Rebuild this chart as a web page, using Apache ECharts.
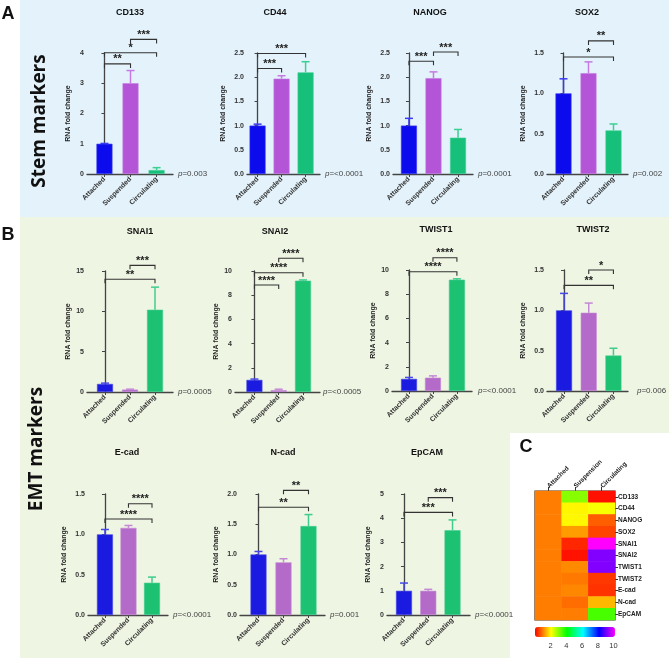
<!DOCTYPE html>
<html><head><meta charset="utf-8">
<script src="https://cdn.jsdelivr.net/npm/echarts@6/dist/echarts.min.js"></script>
<style>html,body{margin:0;padding:0;background:#fff}#c{width:669px;height:658px}</style>
</head><body><div id="c"></div>
<script>
// ---------- DATA ----------
const groups = ['Attached', 'Suspended', 'Circulating'];
const heatCols = ['Attached', 'Suspension', 'Circulating'];
const genes = ['CD133', 'CD44', 'NANOG', 'SOX2', 'SNAI1', 'SNAI2', 'TWIST1', 'TWIST2', 'E-cad', 'N-cad', 'EpCAM'];
// mean RNA fold change per group
const cd133Mean = [1.0, 3.0, 0.13];   const cd133Err = [0.01, 0.42, 0.08];
const cd44Mean  = [1.0, 1.97, 2.1];   const cd44Err  = [0.03, 0.06, 0.22];
const nanogMean = [1.0, 1.98, 0.75];  const nanogErr = [0.15, 0.13, 0.17];
const sox2Mean  = [1.0, 1.25, 0.54];  const sox2Err  = [0.18, 0.14, 0.08];
const snai1Mean = [1.0, 0.3, 10.2];   const snai1Err = [0.1, 0.05, 2.8];
const snai2Mean = [1.0, 0.15, 9.2];   const snai2Err = [0.07, 0.08, 0.06];
const twist1Mean = [1.0, 1.1, 9.2];   const twist1Err = [0.12, 0.15, 0.07];
const twist2Mean = [1.0, 0.97, 0.44]; const twist2Err = [0.21, 0.12, 0.09];
const ecadMean  = [1.0, 1.08, 0.4];   const ecadErr  = [0.06, 0.03, 0.07];
const ncadMean  = [1.0, 0.87, 1.47];  const ncadErr  = [0.05, 0.06, 0.19];
const epcamMean = [1.0, 1.0, 3.5];    const epcamErr = [0.32, 0.06, 0.43];
// significance brackets: [from group, to group, height (value), label]
const cd133Sig = [[0, 1, 3.64, '**'], [0, 2, 4.01, '*'], [1, 2, 4.45, '***']];
const cd44Sig  = [[0, 1, 2.18, '***'], [0, 2, 2.49, '***']];
const nanogSig = [[0, 1, 2.33, '***'], [1, 2, 2.52, '***']];
const sox2Sig  = [[0, 2, 1.45, '*'], [1, 2, 1.65, '**']];
const snai1Sig = [[0, 2, 13.97, '**'], [1, 2, 15.7, '***']];
const snai2Sig = [[0, 1, 8.84, '****'], [0, 2, 9.86, '****'], [1, 2, 11.05, '****']];
const twist1Sig = [[0, 2, 9.86, '****'], [1, 2, 11.01, '****']];
const twist2Sig = [[0, 2, 1.31, '**'], [1, 2, 1.5, '*']];
const ecadSig  = [[0, 2, 1.19, '****'], [1, 2, 1.38, '****']];
const ncadSig  = [[0, 2, 1.78, '**'], [1, 2, 2.06, '**']];
const epcamSig = [[0, 2, 4.24, '***'], [1, 2, 4.85, '***']];
const pValues = ['=0.003', '=<0.0001', '=0.0001', '=0.002', '=0.0005', '=<0.0005', '=<0.0001', '=0.006', '=<0.0001', '=0.001', '=<0.0001'];
const yMaxes = [4, 2.5, 2.5, 1.5, 15, 10, 10, 1.5, 1.5, 2, 5];
const yIntervals = [1, 0.5, 0.5, 0.5, 5, 2, 2, 0.5, 0.5, 0.5, 1];
const colorTicks = [0, 10.2];

const means = [cd133Mean, cd44Mean, nanogMean, sox2Mean, snai1Mean, snai2Mean, twist1Mean, twist2Mean, ecadMean, ncadMean, epcamMean];
const errs = [cd133Err, cd44Err, nanogErr, sox2Err, snai1Err, snai2Err, twist1Err, twist2Err, ecadErr, ncadErr, epcamErr];
const sigs = [cd133Sig, cd44Sig, nanogSig, sox2Sig, snai1Sig, snai2Sig, twist1Sig, twist2Sig, ecadSig, ncadSig, epcamSig];

// ---------- LAYOUT ----------
const layout = [
  {left: 87, top: 53, w: 86, h: 121, xMin: -0.67, xMax: 2.63, tx: 130, ty: 13, px: 178, py: 174, sec: 0},
  {left: 247, top: 53, w: 73, h: 121, xMin: -0.44, xMax: 2.6, tx: 275, ty: 13, px: 325, py: 174, sec: 0},
  {left: 393, top: 53, w: 80, h: 121, xMin: -0.65, xMax: 2.61, tx: 430, ty: 13, px: 478, py: 174, sec: 0},
  {left: 547, top: 53, w: 81, h: 121, xMin: -0.66, xMax: 2.58, tx: 587, ty: 13, px: 633, py: 174, sec: 0},
  {left: 87, top: 271, w: 86, h: 121, xMin: -0.72, xMax: 2.72, tx: 140, ty: 232, px: 178, py: 392, sec: 1},
  {left: 235, top: 271, w: 85, h: 121, xMin: -0.8, xMax: 2.7, tx: 275, ty: 232, px: 323, py: 392, sec: 1},
  {left: 392, top: 270, w: 80, h: 121, xMin: -0.71, xMax: 2.63, tx: 436, ty: 230, px: 478, py: 391, sec: 1},
  {left: 547, top: 270, w: 81, h: 121, xMin: -0.69, xMax: 2.59, tx: 593, ty: 230, px: 637, py: 391, sec: 1},
  {left: 88, top: 494, w: 80, h: 121, xMin: -0.72, xMax: 2.68, tx: 127, ty: 453, px: 173, py: 615, sec: 1},
  {left: 240, top: 494, w: 85, h: 121, xMin: -0.74, xMax: 2.66, tx: 283, ty: 453, px: 330, py: 615, sec: 1},
  {left: 387, top: 494, w: 83, h: 121, xMin: -0.7, xMax: 2.72, tx: 427, ty: 453, px: 475, py: 615, sec: 1}
];
const barColors = [['#0b0bee', '#b455d8', '#17c07a'], ['#1a1ae0', '#b46ac8', '#1cc172']];
const errColors = [['#3a3af2', '#c47ae2', '#3ccf92'], ['#4848e8', '#c488d6', '#40cc8e']];
const FONT = 'Liberation Sans, Arial, sans-serif';

const grids = [], xAxes = [], yAxes = [], series = [], graphics = [];

graphics.push({type: 'rect', z: -10, shape: {x: 20, y: 0, width: 649, height: 217}, style: {fill: '#e4f3fb'}});
graphics.push({type: 'rect', z: -10, shape: {x: 20, y: 217, width: 649, height: 441}, style: {fill: '#eef5e3'}});
graphics.push({type: 'rect', z: -9, shape: {x: 510, y: 433, width: 159, height: 225}, style: {fill: '#ffffff'}});
function txt(x, y, text, font, opts) {
  return {type: 'text', x: x, y: y, style: Object.assign({text: text, font: font, fill: '#111', align: 'center', verticalAlign: 'middle', textAlign: 'center', textVerticalAlign: 'middle'}, opts || {})};
}
graphics.push(txt(8, 14, 'A', 'bold 18px ' + FONT));
graphics.push(txt(8, 235, 'B', 'bold 18px ' + FONT));
graphics.push(txt(526, 447, 'C', 'bold 18px ' + FONT));
const sm = txt(40, 121, 'Stem markers', 'bold 19px "Open Sans", sans-serif'); sm.rotation = Math.PI / 2; graphics.push(sm);
const em = txt(37, 449, 'EMT markers', 'bold 19px "Open Sans", sans-serif'); em.rotation = Math.PI / 2; graphics.push(em);

layout.forEach((L, i) => {
  const dec = yIntervals[i] < 1 ? 1 : 0;
  grids.push({left: L.left, top: L.top, width: L.w, height: L.h});
  xAxes.push({
    gridIndex: i, type: 'value', min: L.xMin, max: L.xMax,
    axisLine: {show: true, onZero: false, lineStyle: {color: '#444', width: 1.3}},
    splitLine: {show: false},
    axisTick: {show: true, customValues: [0, 1, 2], length: 3, lineStyle: {color: '#444', width: 1}},
    axisLabel: {customValues: [0, 1, 2], formatter: v => groups[Math.round(v)], rotate: 45, fontSize: 7, fontWeight: 'bold', color: '#333', margin: 4, fontFamily: FONT}
  });
  yAxes.push({
    gridIndex: i, type: 'value', min: 0, max: yMaxes[i], interval: yIntervals[i],
    name: 'RNA fold change', nameLocation: 'middle', nameGap: dec ? 20 : 15,
    nameTextStyle: {fontSize: 7, fontWeight: 'bold', color: '#222', fontFamily: FONT},
    axisLine: {show: true, lineStyle: {color: '#444', width: 1.3}},
    axisTick: {show: true, length: 3, lineStyle: {color: '#444'}},
    axisLabel: {formatter: v => v.toFixed(dec), fontSize: 7, fontWeight: 'bold', color: '#333', margin: 3, fontFamily: FONT},
    splitLine: {show: false}
  });
  const bc = barColors[L.sec], ec = errColors[L.sec];
  series.push({
    type: 'bar', xAxisIndex: i, yAxisIndex: i, barWidth: 16, clip: false,
    data: means[i].map((m, j) => ({value: [j, m], itemStyle: {color: bc[j], borderColor: ec[j], borderWidth: 0.6}}))
  });
  const ev = errs[i];
  series.push({
    type: 'custom', xAxisIndex: i, yAxisIndex: i, clip: false, z: 3,
    data: means[i].map((m, j) => [j, m, m + ev[j]]),
    renderItem: (params, api) => {
      const x = api.value(0), p0 = api.coord([x, api.value(1)]), p1 = api.coord([x, api.value(2)]);
      const c = ec[Math.round(x)];
      return {type: 'group', children: [
        {type: 'line', shape: {x1: p0[0], y1: p0[1], x2: p1[0], y2: p1[1]}, style: {stroke: c, lineWidth: 1.5}},
        {type: 'line', shape: {x1: p1[0] - 4, y1: p1[1], x2: p1[0] + 4, y2: p1[1]}, style: {stroke: c, lineWidth: 1.5}}
      ]};
    }
  });
  const sg = sigs[i];
  series.push({
    type: 'custom', xAxisIndex: i, yAxisIndex: i, clip: false, z: 3,
    data: sg.map(s => [s[0], s[1], s[2]]),
    renderItem: (params, api) => {
      const a = api.coord([api.value(0), api.value(2)]), b = api.coord([api.value(1), api.value(2)]);
      const label = sg[params.dataIndex][3];
      return {type: 'group', children: [
        {type: 'polyline', shape: {points: [[a[0], a[1] + 4], [a[0], a[1]], [b[0], b[1]], [b[0], b[1] + 4]]}, style: {stroke: '#333', lineWidth: 1.1, fill: null}},
        {type: 'text', style: {text: label, x: (a[0] + b[0]) / 2, y: a[1] + 1, align: 'center', verticalAlign: 'bottom', font: 'bold 11px ' + FONT, fill: '#222'}}
      ]};
    }
  });
  graphics.push(txt(L.tx, L.ty, genes[i], 'bold 9px ' + FONT));
  graphics.push({type: 'text', x: L.px, y: L.py, style: {text: '{i|p}' + pValues[i], rich: {i: {fontStyle: 'italic', fontSize: 8, fontFamily: FONT, fill: '#444'}}, fontSize: 8, fontFamily: FONT, fill: '#444', align: 'left', verticalAlign: 'middle'}});
});

// heatmap
const hi = layout.length;
grids.push({left: 535, top: 491, width: 80, height: 129, show: true, borderColor: '#333', borderWidth: 1.2, backgroundColor: 'transparent'});
xAxes.push({gridIndex: hi, type: 'category', data: heatCols, position: 'top',
  axisLine: {show: false}, axisTick: {show: true, alignWithLabel: true, length: 4, lineStyle: {color: '#333'}},
  axisLabel: {rotate: -45, align: 'left', verticalAlign: 'middle', fontSize: 6.5, fontWeight: 'bold', color: '#222', margin: 4, fontFamily: FONT}, splitLine: {show: false}});
yAxes.push({gridIndex: hi, type: 'category', data: genes, position: 'right', inverse: true,
  axisLine: {show: false}, axisTick: {show: true, alignWithLabel: true, length: 3, lineStyle: {color: '#333'}},
  axisLabel: {fontSize: 6.5, fontWeight: 'bold', color: '#222', margin: 3, fontFamily: FONT}, splitLine: {show: false}});
const heatData = [];
means.forEach((m, r) => m.forEach((v, c) => heatData.push([c, r, v])));
const heatIdx = series.length;
series.push({type: 'heatmap', xAxisIndex: hi, yAxisIndex: hi, data: heatData, itemStyle: {borderWidth: 0}});

// colorbar tick axis
const ci = hi + 1;
grids.push({left: 535, top: 627, width: 80, height: 10});
xAxes.push({gridIndex: ci, type: 'value', min: colorTicks[0], max: colorTicks[1], interval: 2,
  axisLine: {show: false}, axisTick: {show: false}, splitLine: {show: false},
  axisLabel: {formatter: v => (v === 0 ? '' : String(v)), fontSize: 7.5, color: '#333', margin: 5, fontFamily: FONT}});
yAxes.push({gridIndex: ci, type: 'value', show: false});

const chart = echarts.init(document.getElementById('c'));
chart.setOption({
  backgroundColor: '#ffffff',
  animation: false,
  grid: grids, xAxis: xAxes, yAxis: yAxes, series: series,
  visualMap: [{type: 'continuous', seriesIndex: heatIdx, min: colorTicks[0], max: colorTicks[1], orient: 'horizontal',
    left: 535, top: 627, itemWidth: 10, itemHeight: 80, padding: 0, calculable: false, text: null, showLabel: false,
    inRange: {color: ['#ff0000', '#ffff00', '#00ff00', '#00ffff', '#0000ff', '#ff00ff']}}],
  graphic: {elements: graphics}
});
</script></body></html>
